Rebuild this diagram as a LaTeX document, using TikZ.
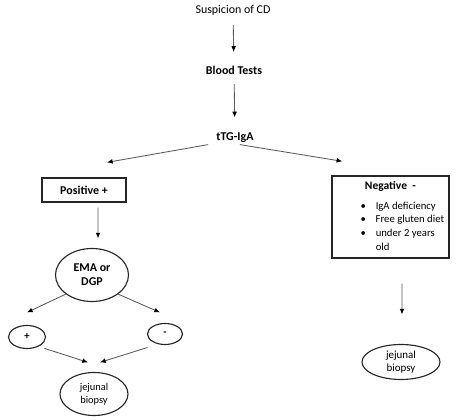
\documentclass[tikz,border=0pt]{standalone}
\usepackage{fontspec}
\setmainfont{Carlito}
\usetikzlibrary{arrows.meta,shapes.geometric}

\begin{document}
\begin{tikzpicture}[
  lbl/.style={inner sep=0pt, font=\fontsize{8.5}{10}\selectfont},
  boldlbl/.style={inner sep=0pt, font=\fontsize{8.5}{10}\selectfont\bfseries},
  rbox/.style={draw=black!85, line width=0.9pt, inner sep=2pt, font=\fontsize{8.5}{10}\selectfont\bfseries},
  oval/.style={draw=black!85, ellipse, line width=0.8pt, inner sep=0pt, align=center},
  arr/.style={draw=black!65, line width=0.6pt, -{Latex[length=4pt,width=3.4pt,black]}}
]
\useasboundingbox (0,0) rectangle (11.85,10.5);

\node[lbl] (susp) at (5.825,10.25) {Suspicion of CD};
\node[boldlbl] (blood) at (5.85,8.75) {Blood Tests};
\node[boldlbl] (ttg) at (5.875,7.05) {tTG-IgA};

\node[rbox, minimum width=2.1cm, minimum height=0.6cm] (pos) at (2.1,5.75) {Positive +};
\node[rbox, minimum width=2.925cm, minimum height=2.05cm, font=\fontsize{7.6}{9.7}\selectfont] (neg) at (9.76,5.075)
  {\begin{tabular}{@{\hspace{17pt}}c@{\hspace{7pt}}l@{}}
   \multicolumn{2}{@{}c@{}}{\fontsize{8.2}{10}\selectfont\bfseries Negative\ \ -}\\[4.5pt]
   \textbullet & IgA deficiency\\
   \textbullet & Free gluten diet\\
   \textbullet & under 2 years\\
   & old
   \end{tabular}};

\node[oval, minimum width=1.825cm, minimum height=1.325cm, font=\fontsize{8.5}{10}\selectfont\bfseries] (ema) at (2.3,3.625) {EMA or\\DGP};
\node[oval, minimum width=0.925cm, minimum height=0.575cm, font=\fontsize{7.6}{9}\selectfont\bfseries] (plus) at (0.675,2.075) {+};
\node[oval, minimum width=0.875cm, minimum height=0.525cm, font=\fontsize{7.6}{9}\selectfont\bfseries] (minus) at (4.125,2.15) {-};
\node[oval, minimum width=1.7cm, minimum height=1.075cm, font=\fontsize{7.4}{9.5}\selectfont] (jej1) at (2.35,0.65) {jejunal\\biopsy};
\node[oval, minimum width=1.95cm, minimum height=0.875cm, font=\fontsize{7.8}{9.5}\selectfont] (jej2) at (10.025,1.45) {jejunal\\biopsy};

\path[arr, shorten <=6.9pt, shorten >=9.7pt] (susp) -- (blood);
\path[arr, shorten <=6.9pt, shorten >=11pt] (blood) -- (ttg);
\path[arr] ([xshift=-5.7pt,yshift=-1pt]ttg.south west) -- ([xshift=0.575cm,yshift=0.375cm]pos.north);
\path[arr] ([xshift=3.5pt,yshift=-1pt]ttg.south) -- ([xshift=7.8pt,yshift=10pt]neg.north west);
\path[arr] ([xshift=10pt,yshift=-3.5pt]pos.south) -- ([xshift=4.3pt,yshift=6.8pt]ema.north);
\path[arr] (ema.south west) -- ([yshift=8.9pt]plus.north);
\path[arr] (ema.south east) -- ([xshift=-3.6pt,yshift=7.5pt]minus.north);
\path[arr] ([xshift=2.8pt,yshift=-2pt]plus.south east) -- ([xshift=-4.3pt,yshift=6.8pt]jej1.north);
\path[arr] ([xshift=-3.3pt,yshift=-4pt]minus.south west) -- ([xshift=4.3pt,yshift=6.8pt]jej1.north);
\path[arr] ([xshift=8.2pt,yshift=-17.8pt]neg.south) -- ([xshift=0.7pt,yshift=21pt]jej2.north);
\end{tikzpicture}
\end{document}
